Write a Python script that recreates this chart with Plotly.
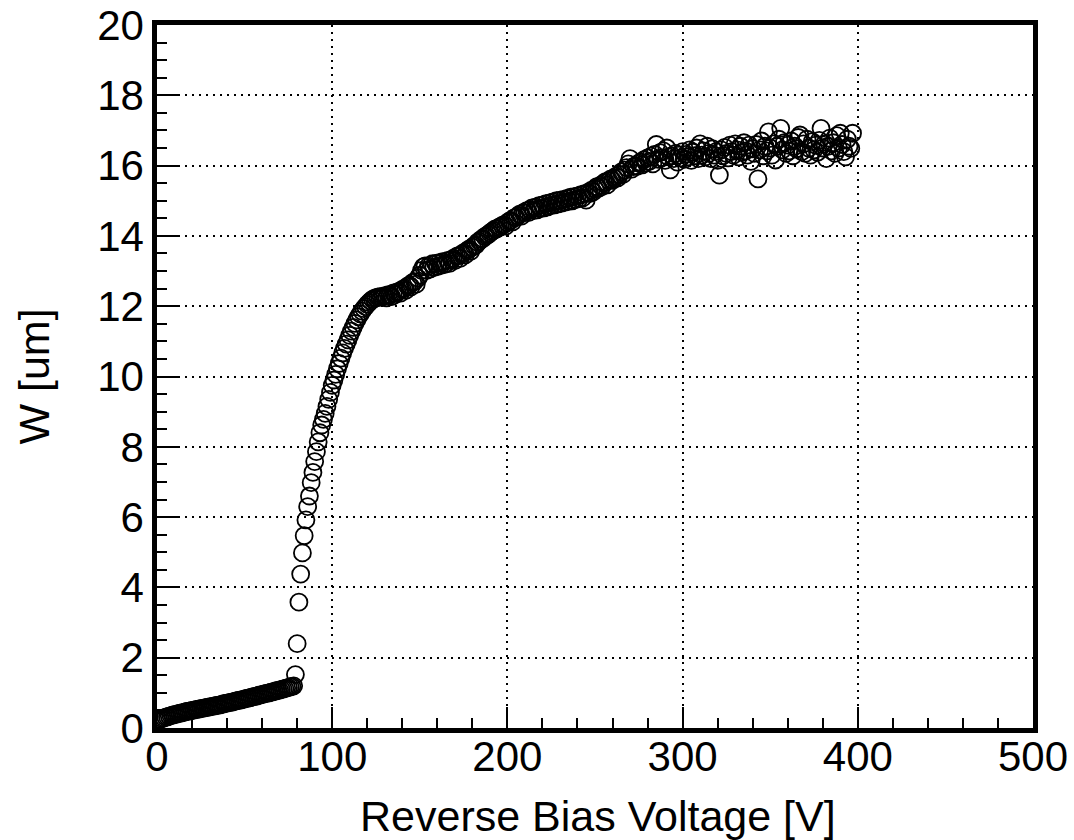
import plotly.graph_objects as go

# W [um], one value per volt
w_low = [
    0.20, 0.23, 0.25, 0.27, 0.29, 0.31, 0.32, 0.34, 0.35, 0.37,
    0.38, 0.39, 0.41, 0.42, 0.43, 0.44, 0.46, 0.47, 0.48, 0.49,
    0.50, 0.51, 0.52, 0.53, 0.54, 0.55, 0.56, 0.57, 0.58, 0.59,
    0.60, 0.61, 0.62, 0.63, 0.64, 0.65, 0.66, 0.67, 0.69, 0.70,
    0.71, 0.72, 0.73, 0.74, 0.75, 0.77, 0.78, 0.79, 0.80, 0.81,
    0.83, 0.84, 0.85, 0.86, 0.88, 0.89, 0.90, 0.91, 0.93, 0.94,
    0.95, 0.97, 0.98, 0.99, 1.00, 1.02, 1.03, 1.04, 1.06, 1.07,
    1.08, 1.10, 1.11, 1.12, 1.14, 1.15, 1.17, 1.18, 1.20,
]  # 0 .. 78 V

w_rise = [
    1.52, 2.40, 3.58, 4.38, 4.98, 5.47, 5.92, 6.30, 6.60, 6.98,
    7.27, 7.58, 7.86, 8.14, 8.40, 8.62, 8.78, 8.95, 9.15, 9.35,
    9.55, 9.75, 9.90, 10.06, 10.22, 10.37, 10.52, 10.67, 10.80, 10.92,
    11.04, 11.17, 11.29, 11.40, 11.51, 11.61, 11.70, 11.78, 11.86, 11.93,
    11.99, 12.05, 12.10, 12.15, 12.19, 12.22, 12.24, 12.26, 12.27, 12.25,
]  # 79 .. 128 V

w_plateau = [
    12.28, 12.30, 12.24, 12.33, 12.32, 12.27, 12.38, 12.33, 12.40, 12.42,
    12.37, 12.48, 12.50, 12.45, 12.57, 12.60, 12.55, 12.68, 12.70, 12.63,
    12.80, 12.88, 13.02, 13.12, 13.15, 13.02, 13.14, 13.06, 13.20, 13.10,
    13.22, 13.13, 13.24, 13.16, 13.27, 13.18, 13.22, 13.30, 13.22, 13.32,
    13.36, 13.30, 13.42, 13.44, 13.36, 13.48, 13.52, 13.46, 13.58, 13.62,
    13.56, 13.68, 13.72, 13.74, 13.82, 13.85, 13.90, 13.92, 13.98, 14.00,
    14.04, 14.08, 14.12, 14.15, 14.20, 14.20, 14.24, 14.26, 14.30, 14.32,
    14.28, 14.38, 14.42, 14.44, 14.40, 14.52, 14.52, 14.57, 14.62, 14.56,
    14.66, 14.66, 14.72, 14.66, 14.74, 14.80, 14.72, 14.82, 14.74, 14.86,
    14.78, 14.88, 14.80, 14.92, 14.83, 14.94, 14.86, 14.97, 14.88, 15.00,
    14.91, 15.02, 14.93, 15.04, 14.96, 15.07, 14.98, 15.10, 15.00, 15.12,
    15.03, 15.14, 15.06, 15.17, 15.08, 15.20, 15.02, 15.24, 15.20, 15.30,
    15.25, 15.34, 15.40, 15.35, 15.44, 15.40, 15.50, 15.54, 15.45, 15.57,
    15.62, 15.58, 15.64, 15.70, 15.65, 15.74, 15.82, 15.75, 15.87, 15.94,
    16.05, 16.20, 15.90, 15.97, 16.00, 15.98, 16.07, 16.10, 16.02, 16.17,
    16.08, 16.22, 16.12, 16.27, 16.05, 16.32, 16.60, 16.18, 16.37, 16.22,
    16.42, 16.15, 16.50, 16.25, 15.88, 16.28, 16.20, 16.35, 16.10, 16.30,
    16.22, 16.40, 16.18, 16.32, 16.25, 16.45, 16.15, 16.38, 16.28, 16.50,
    16.20, 16.62, 16.30, 16.42, 16.25, 16.55, 16.35, 16.20, 16.48, 16.30,
    16.40, 16.15, 15.73, 16.45, 16.28, 16.52, 16.35, 16.22, 16.58, 16.40,
    16.30, 16.62, 16.45, 16.25, 16.55, 16.38, 16.65, 16.42, 16.30, 16.58,
    16.12, 16.48, 16.35, 16.60, 15.62, 16.45, 16.70, 16.28, 16.55, 16.42,
    16.96, 16.50, 16.30, 16.62, 16.16, 16.55, 16.75, 17.06, 16.45, 16.65,
    16.35, 16.58, 16.42, 16.70, 16.28, 16.55, 16.48, 16.80, 16.87, 16.40,
    16.62, 16.35, 16.75, 16.50, 16.30, 16.68, 16.45, 16.58, 16.38, 16.72,
    17.06, 16.50, 16.62, 16.20, 16.55, 16.78, 16.42, 16.65, 16.35, 16.85,
    16.50, 16.92, 16.60, 16.40, 16.25, 16.75, 16.55, 16.49, 16.92,
]  # 129 .. 397 V

width_um = w_low + w_rise + w_plateau
voltage = list(range(len(width_um)))  # 1 V steps starting at 0 V

x_ticks = [0, 100, 200, 300, 400, 500]
y_ticks = [0, 2, 4, 6, 8, 10, 12, 14, 16, 18, 20]

fig = go.Figure()
fig.add_trace(go.Scatter(
    x=voltage, y=width_um, mode="markers",
    marker=dict(symbol="circle-open", size=17, color="black",
                line=dict(width=1.8, color="black")),
    showlegend=False,
))

font_family = "Liberation Sans, Arial, sans-serif"
axis_common = dict(
    showline=True, linecolor="black", linewidth=4.5, mirror=True,
    ticks="inside", tickcolor="black", ticklen=21, tickwidth=2,
    showgrid=True, gridcolor="black", gridwidth=1.5, griddash="2px,5px",
    zeroline=False, automargin=False,
    tickfont=dict(family=font_family, size=42, color="black"),
)

fig.update_xaxes(
    range=[0, 500], tickvals=x_ticks, ticktext=[str(v) for v in x_ticks],
    ticklabelstandoff=-12,
    minor=dict(dtick=20, tick0=0, ticks="inside", ticklen=10, tickwidth=1.5,
               tickcolor="black", showgrid=False),
    **axis_common,
)
fig.update_yaxes(
    range=[0, 20], tickvals=y_ticks, ticktext=[str(v) for v in y_ticks],
    minor=dict(dtick=0.5, tick0=0, ticks="inside", ticklen=10, tickwidth=1.5,
               tickcolor="black", showgrid=False),
    title=dict(text="W [um]", standoff=36,
               font=dict(family=font_family, size=43, color="black")),
    **axis_common,
)

fig.update_layout(
    width=1074, height=840,
    margin=dict(l=157, r=41, t=25, b=112, pad=0),
    paper_bgcolor="white", plot_bgcolor="white",
    annotations=[dict(
        text="Reverse Bias Voltage [V]", xref="paper", yref="paper",
        x=0.503, y=0, yshift=-62, xanchor="center", yanchor="top",
        showarrow=False,
        font=dict(family=font_family, size=43, color="black"),
    )],
)

fig.write_html("out.html")
